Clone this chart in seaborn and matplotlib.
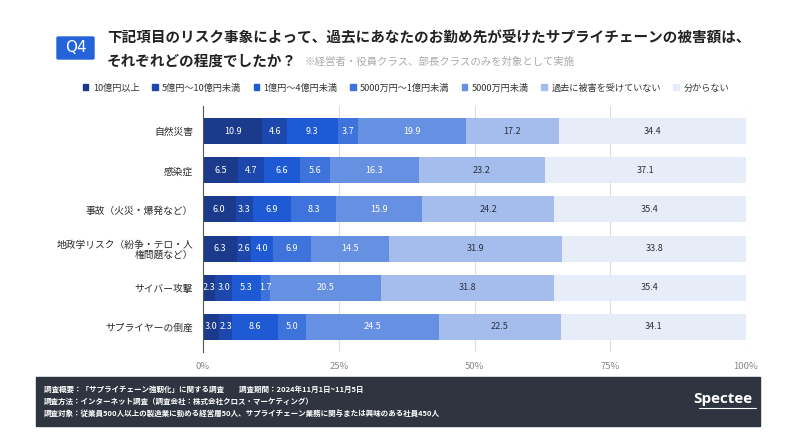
import matplotlib
matplotlib.use("Agg")
import matplotlib.pyplot as plt
import matplotlib.patches as mpatches
import numpy as np
import pandas as pd
import seaborn as sns

categories = ["自然災害", "感染症", "事故（火災・爆発など）",
              "地政学リスク（紛争・テロ・人\n権問題など）", "サイバー攻撃", "サプライヤーの倒産"]
series_names = ["10億円以上", "5億円～10億円未満", "1億円～4億円未満", "5000万円～1億円未満",
                "5000万円未満", "過去に被害を受けていない", "分からない"]
s_10oku = [10.9, 6.5, 6.0, 6.3, 2.3, 3.0]
s_5oku = [4.6, 4.7, 3.3, 2.6, 3.0, 2.3]
s_1oku = [9.3, 6.6, 6.9, 4.0, 5.3, 8.6]
s_5000_1oku = [3.7, 5.6, 8.3, 6.9, 1.7, 5.0]
s_5000 = [19.9, 16.3, 15.9, 14.5, 20.5, 24.5]
s_none = [17.2, 23.2, 24.2, 31.9, 31.8, 22.5]
s_unknown = [34.4, 37.1, 35.4, 33.8, 35.4, 34.1]
tick_vals = [0, 25, 50, 75, 100]
tick_labels = ["0%", "25%", "50%", "75%", "100%"]

colors = ["#1b3a8c", "#1c48ad", "#1f5ad5", "#3e73dc", "#6690e2", "#a4bdec", "#e6edf9"]
label_colors = ["white"] * 5 + ["#2b2f3a"] * 2

sns.set_theme(style="white")
plt.rcParams["font.family"] = ["Noto Sans CJK JP", "DejaVu Sans"]

series = [s_10oku, s_5oku, s_1oku, s_5000_1oku, s_5000, s_none, s_unknown]
df = pd.DataFrame(dict(zip(series_names, series)), index=categories)
cum = df.cumsum(axis=1)

fig = plt.figure(figsize=(8.01, 4.47), dpi=100)
ax = fig.add_axes([203 / 801, 1 - 352 / 447, 543 / 801, 246 / 447])

# draw cumulative bars from the widest to the narrowest to get stacks
for i in range(len(series_names) - 1, -1, -1):
    d = pd.DataFrame({"cat": categories, "val": cum.iloc[:, i].values})
    sns.barplot(data=d, x="val", y="cat", orient="h", color=colors[i],
                saturation=1, width=0.66, linewidth=0, ax=ax, zorder=2)

for r, cat in enumerate(categories):
    left = 0
    for i, name in enumerate(series_names):
        v = df.loc[cat, name]
        ax.text(left + v / 2, r, f"{v:.1f}", ha="center", va="center",
                fontsize=6.5, color=label_colors[i], zorder=3)
        left += v

ax.set_xlim(0, 100)
ax.set_ylim(5.64, -0.64)
ax.set_xticks(tick_vals)
ax.set_xticklabels(tick_labels, fontsize=6.8, color="#888888")
ax.tick_params(axis="x", length=0, pad=7)
ax.tick_params(axis="y", length=0, pad=7)
ax.set_yticks(range(len(categories)))
ax.set_yticklabels(categories, fontsize=7, color="#2b2b2b", linespacing=1.0,
                   multialignment="right")
ax.set_xlabel("")
ax.set_ylabel("")
for t in tick_vals[1:]:
    ax.axvline(t, color="#dddddd", lw=0.8, zorder=1)
for s in ["top", "right", "bottom"]:
    ax.spines[s].set_visible(False)
ax.spines["left"].set_color("#555555")
ax.spines["left"].set_linewidth(0.8)
ax.spines["left"].set_zorder(4)

# title block
fig.patches.append(mpatches.FancyBboxPatch((57 / 801, 1 - 59 / 447), 37 / 801, 22 / 447,
                                           boxstyle="round,pad=0,rounding_size=0.002",
                                           transform=fig.transFigure, color="#2563d9"))
fig.text(75.5 / 801, 1 - 48 / 447, "Q4", color="white", fontsize=11, ha="center", va="center",
         family=["DejaVu Sans"])
fig.text(107 / 801, 1 - 38 / 447, "下記項目のリスク事象によって、過去にあなたのお勤め先が受けたサプライチェーンの被害額は、",
         fontsize=10.5, fontweight="bold", color="#222222", va="center")
fig.text(107 / 801, 1 - 61 / 447, "それぞれどの程度でしたか？",
         fontsize=10.5, fontweight="bold", color="#222222", va="center")
fig.text(305 / 801, 1 - 62 / 447, "※経営者・役員クラス、部長クラスのみを対象として実施",
         fontsize=7.5, color="#aaaaaa", va="center")

handles = [mpatches.Patch(color=c, label=n) for c, n in zip(colors, series_names)]
fig.legend(handles=handles, loc="center", bbox_to_anchor=(406 / 801, 1 - 88 / 447), ncol=7,
           fontsize=6.6, frameon=False, handlelength=0.6, handleheight=0.6,
           handletextpad=0.5, columnspacing=1.35, labelcolor="#333333")

# footer
fig.patches.append(mpatches.Rectangle((36 / 801, 1 - 426 / 447), 724 / 801, 49 / 447,
                                      transform=fig.transFigure, color="#2e3440", zorder=0))
footer = ["調査概要：「サプライチェーン強靭化」に関する調査　　調査期間：2024年11月1日~11月5日",
          "調査方法：インターネット調査（調査会社：株式会社クロス・マーケティング）",
          "調査対象：従業員500人以上の製造業に勤める経営層50人、サプライチェーン業務に関与または興味のある社員450人"]
for k, line in enumerate(footer):
    fig.text(44 / 801, 1 - (389 + 12 * k) / 447, line, fontsize=5.45, color="white",
             va="center", fontweight="bold")
fig.text(723 / 801, 1 - 399 / 447, "Spectee", fontsize=11, color="white", ha="center",
         va="center", fontweight="bold", family=["Open Sans", "DejaVu Sans"])
fig.add_artist(plt.Line2D([699 / 801, 756 / 801], [1 - 408 / 447, 1 - 408 / 447],
                          transform=fig.transFigure, color="white", lw=0.8))

fig.savefig("out.png", dpi=100)
